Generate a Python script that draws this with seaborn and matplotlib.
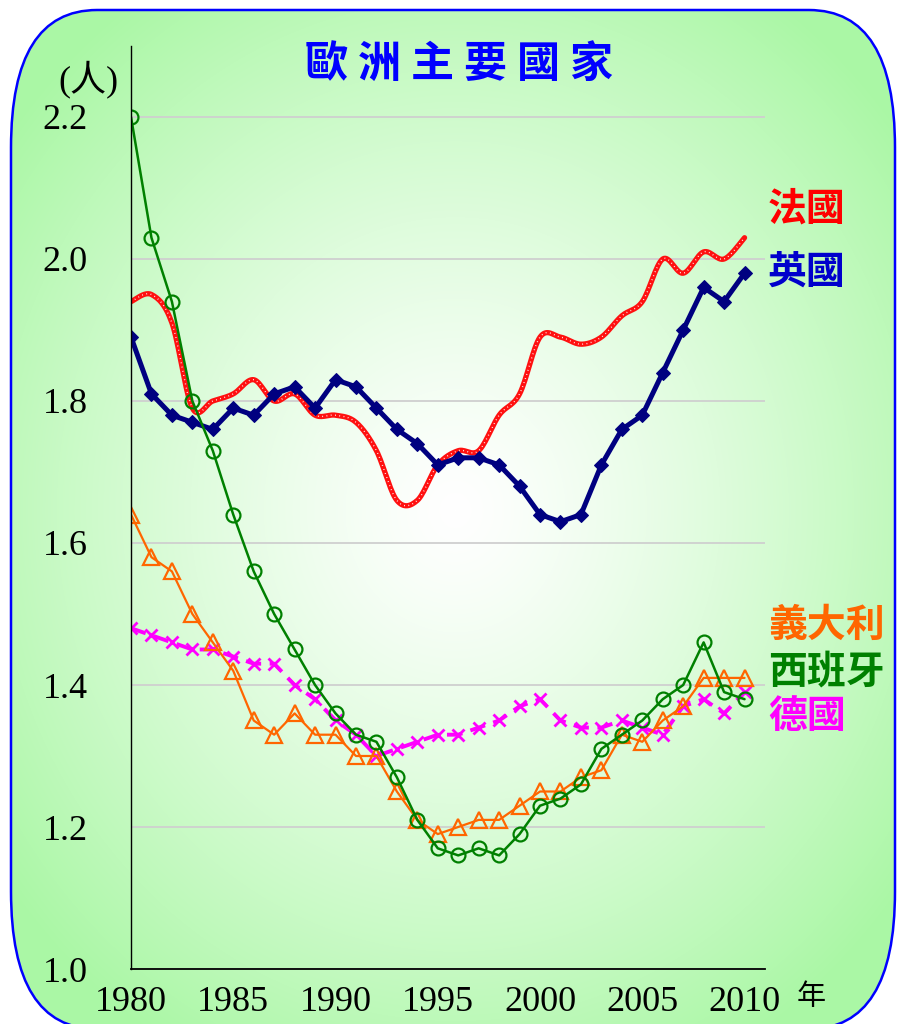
import numpy as np
import pandas as pd
import matplotlib
matplotlib.use('Agg')
import matplotlib.pyplot as plt
import seaborn as sns
from matplotlib.patches import FancyBboxPatch

# 資料 (總生育率, 人)
years = list(range(1980, 2011))
france = [1.94, 1.95, 1.91, 1.79, 1.80, 1.81, 1.83, 1.80, 1.81, 1.78, 1.78,
          1.77, 1.73, 1.66, 1.66, 1.71, 1.73, 1.73, 1.78, 1.81, 1.89,
          1.89, 1.88, 1.89, 1.92, 1.94, 2.00, 1.98, 2.01, 2.00, 2.03]
uk = [1.89, 1.81, 1.78, 1.77, 1.76, 1.79, 1.78, 1.81, 1.82, 1.79, 1.83,
      1.82, 1.79, 1.76, 1.74, 1.71, 1.72, 1.72, 1.71, 1.68, 1.64,
      1.63, 1.64, 1.71, 1.76, 1.78, 1.84, 1.90, 1.96, 1.94, 1.98]
italy = [1.64, 1.58, 1.56, 1.50, 1.46, 1.42, 1.35, 1.33, 1.36, 1.33, 1.33,
         1.30, 1.30, 1.25, 1.21, 1.19, 1.20, 1.21, 1.21, 1.23, 1.25,
         1.25, 1.27, 1.28, 1.33, 1.32, 1.35, 1.37, 1.41, 1.41, 1.41]
spain = [2.20, 2.03, 1.94, 1.80, 1.73, 1.64, 1.56, 1.50, 1.45, 1.40, 1.36,
         1.33, 1.32, 1.27, 1.21, 1.17, 1.16, 1.17, 1.16, 1.19, 1.23,
         1.24, 1.26, 1.31, 1.33, 1.35, 1.38, 1.40, 1.46, 1.39, 1.38]
germany = [1.48, 1.47, 1.46, 1.45, 1.45, 1.44, 1.43, 1.43, 1.40, 1.38, 1.35,
           1.33, 1.30, 1.31, 1.32, 1.33, 1.33, 1.34, 1.35, 1.37, 1.38,
           1.35, 1.34, 1.34, 1.35, 1.34, 1.33, 1.37, 1.38, 1.36, 1.39]

title = '歐洲主要國家'
names = ['法國', '英國', '義大利', '西班牙', '德國']
name_y = [2.07, 1.982, 1.484, 1.418, 1.355]   # 右側標籤的高度
name_colors = ['#ff0000', '#0000cc', '#ff6600', '#008000', '#ff00ff']
yticks = [1.0, 1.2, 1.4, 1.6, 1.8, 2.0, 2.2]
xticks = [1980, 1985, 1990, 1995, 2000, 2005, 2010]


def smooth(x, y, n=16):
    # Excel 式平滑線 (Catmull-Rom -> Bezier)
    pts = np.column_stack([x, y]).astype(float)
    p = np.vstack([pts[0], pts, pts[-1]])
    out = []
    t = np.linspace(0, 1, n, endpoint=False)[:, None]
    for i in range(1, len(p) - 2):
        p0, p1, p2, p3 = p[i - 1], p[i], p[i + 1], p[i + 2]
        c1 = p1 + (p2 - p0) / 6
        c2 = p2 - (p3 - p1) / 6
        out.append((1 - t)**3 * p1 + 3 * (1 - t)**2 * t * c1 + 3 * (1 - t) * t**2 * c2 + t**3 * p2)
    out.append(pts[-1:])
    s = np.vstack(out)
    return s[:, 0], s[:, 1]


sns.set_style('white')
plt.rcParams['font.family'] = ['Liberation Serif', 'Noto Sans CJK TC']
plt.rcParams['text.color'] = 'black'
plt.rcParams['xtick.color'] = 'black'
plt.rcParams['ytick.color'] = 'black'
cjk = ['Noto Sans CJK TC', 'DejaVu Sans']

fig = plt.figure(figsize=(8.97, 10.24), dpi=100)

# 背景: 圓角框 + 放射漸層 (像素座標, y 向上)
bg = fig.add_axes([0, 0, 1, 1])
bg.set_xlim(0, 897)
bg.set_ylim(0, 1024)
bg.axis('off')
box = FancyBboxPatch((11, -5), 884, 1019, boxstyle='round,pad=0,rounding_size=86',
                     mutation_aspect=1.6, facecolor='none', edgecolor='#0000ff', lw=1.8, zorder=3)
bg.add_patch(box)
gx, gy = np.meshgrid(np.arange(897), np.arange(1024))
d = np.sqrt(((gx - 455) / 560.0)**2 + ((gy - 510) / 620.0)**2)
d = np.clip(d, 0, 1) ** 1.25
edge = np.array([0.67, 0.97, 0.65])
img = 1 - d[..., None] * (1 - edge)
im = bg.imshow(img, extent=(0, 897, 0, 1024), origin='upper', zorder=1)
im.set_clip_path(box)

for i, ch in enumerate(title):
    bg.text(326 + i * 53, 1024 - 64, ch, ha='center', va='center', fontsize=31,
            fontweight='bold', color='#0000ff', family=cjk)
bg.text(88, 1024 - 79, '(人)', ha='center', va='center', fontsize=26)
bg.text(811, 1024 - 997, '年', ha='center', va='center', fontsize=21, family=cjk)

# 主圖
ax = fig.add_axes([131 / 897, 55 / 1024, 634 / 897, 923 / 1024])
ax.patch.set_alpha(0)

fx, fy = smooth(years, france)
sns.lineplot(x=fx, y=fy, ax=ax, color='#ff1010', lw=3.8, sort=False, estimator=None)
sns.lineplot(x=fx, y=fy, ax=ax, color='white', lw=1.0, linestyle=(0, (0.6, 2.5)),
             sort=False, estimator=None)
sns.lineplot(x=years, y=uk, ax=ax, color='#000080', lw=3.6, marker='D', markersize=7,
             markerfacecolor='#000080', markeredgecolor='#000080')
sns.lineplot(x=years, y=germany, ax=ax, color='#ff00ff', lw=2.8, linestyle=(0, (4, 2.2)),
             marker='x', markersize=8, markeredgewidth=2, markeredgecolor='#ff00ff')
sns.lineplot(x=years, y=italy, ax=ax, color='#ff6600', lw=1.6, marker='^', markersize=11,
             markerfacecolor='none', markeredgecolor='#ff6600', markeredgewidth=1.6)
sns.lineplot(x=years, y=spain, ax=ax, color='#008000', lw=1.8, marker='o', markersize=10,
             markerfacecolor='none', markeredgecolor='#008000', markeredgewidth=1.6)

ax.set_xlim(1980, 2011)
ax.set_ylim(1.0, 2.3)
ax.set_xticks(xticks)
ax.set_yticks(yticks)
ax.set_yticklabels([f'{v:.1f}' for v in yticks])
ax.tick_params(axis='both', labelsize=26, direction='in', length=8, width=1, labelcolor='black')
ax.tick_params(axis='x', color='#808080', pad=12)
ax.tick_params(axis='y', color='#404040', pad=31)
ax.yaxis.grid(True, color='#cfcfcf', lw=1.3)
ax.set_axisbelow(True)
for s in ['top', 'right']:
    ax.spines[s].set_visible(False)
ax.spines['left'].set_color('black')
ax.spines['left'].set_linewidth(1.0)
ax.spines['bottom'].set_color('black')
ax.spines['bottom'].set_linewidth(1.3)
ax.set_xlabel('')
ax.set_ylabel('')

for n, yv, c in zip(names, name_y, name_colors):
    ax.text(2011.15, yv, n, color=c, fontsize=28, fontweight='bold', family=cjk,
            ha='left', va='center', clip_on=False)

fig.savefig('out.png', dpi=100)
